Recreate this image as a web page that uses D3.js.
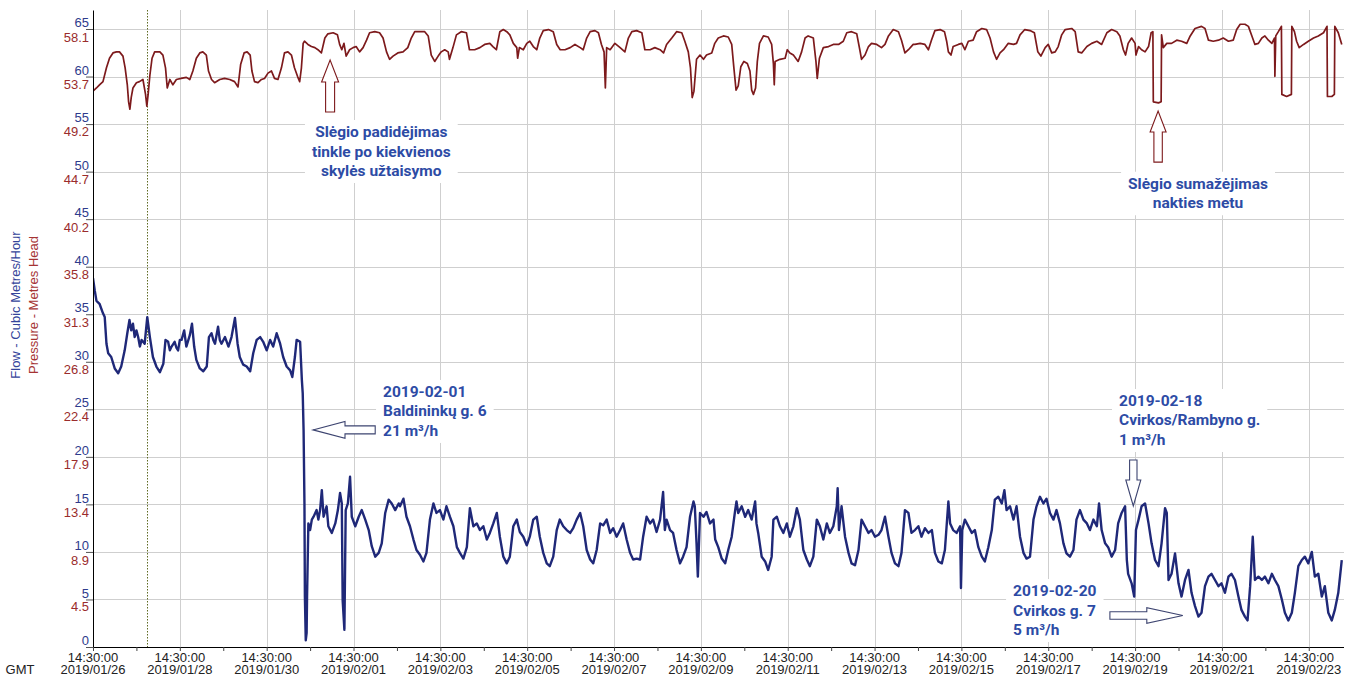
<!DOCTYPE html>
<html>
<head>
<meta charset="utf-8">
<script src="https://cdn.jsdelivr.net/npm/d3@7"></script>
<style>
html,body{margin:0;padding:0;background:#fff;}
svg{display:block;}
</style>
</head>
<body>
<svg id="chart" width="1347" height="677"></svg>
<script>
// ---------------- DATA ----------------
const startTime = Date.UTC(2019, 0, 26, 14, 30, 0);   // 2019/01/26 14:30:00 GMT
const spanDays = 28.8;
const flowMax = 67;
const pressurePerFlow = 58.15 / 65;                   // right-hand (pressure) labels share the gridlines
const flowTicks = [0, 5, 10, 15, 20, 25, 30, 35, 40, 45, 50, 55, 60, 65];
const pressureTicks = [4.5, 8.9, 13.4, 17.9, 22.4, 26.8, 31.3, 35.8, 40.2, 44.7, 49.2, 53.7, 58.1];
const tickDays = d3.range(0, 29);          // a tick at 14:30 every day
const labelDays = d3.range(0, 29, 2);      // labelled / gridded every second day
const markerDay = 1.24;                    // dotted vertical marker

// [days since start, flow m3/h]
const flowSeries = [
[0.00,38.8],[0.04,37.5],[0.08,36.4],[0.15,36.1],[0.23,35.1],[0.27,34.7],[0.31,31.9],[0.35,30.9],[0.42,30.5],[0.50,29.3],
[0.58,28.8],[0.65,29.5],[0.73,31.2],[0.79,33.0],[0.84,34.4],[0.88,33.3],[0.92,34.0],[0.96,32.6],[1.00,33.3],[1.04,32.6],
[1.08,31.6],[1.12,32.3],[1.19,31.9],[1.25,34.7],[1.31,32.6],[1.38,30.5],[1.46,29.5],[1.54,28.9],[1.62,29.8],[1.67,32.3],
[1.73,32.1],[1.77,31.2],[1.81,31.6],[1.88,32.1],[1.92,31.5],[1.96,31.2],[2.00,32.3],[2.04,32.3],[2.10,33.3],[2.15,31.6],
[2.23,32.8],[2.28,34.0],[2.33,31.6],[2.38,30.2],[2.46,29.3],[2.54,29.0],[2.62,29.5],[2.67,32.6],[2.73,33.0],[2.77,32.3],
[2.81,31.9],[2.88,33.7],[2.92,32.3],[2.96,31.9],[3.04,32.6],[3.12,31.6],[3.19,32.6],[3.27,34.6],[3.33,31.9],[3.38,30.5],
[3.46,29.7],[3.54,29.5],[3.62,29.0],[3.69,30.9],[3.77,32.3],[3.85,32.6],[3.92,32.1],[4.00,31.2],[4.08,32.3],[4.15,31.6],
[4.23,33.0],[4.31,31.9],[4.38,30.5],[4.46,29.5],[4.54,29.1],[4.59,28.4],[4.65,30.5],[4.69,32.3],[4.77,32.1],[4.81,28.1],
[4.83,26.7],[4.85,22.8],[4.87,15.1],[4.88,5.3],[4.90,0.7],[4.92,1.5],[4.93,5.3],[4.96,13.0],[5.00,12.3],[5.04,13.4],
[5.08,13.7],[5.15,14.4],[5.19,13.4],[5.23,14.4],[5.27,16.5],[5.31,13.7],[5.38,14.8],[5.42,12.7],[5.50,12.0],[5.58,13.0],
[5.64,14.4],[5.69,16.2],[5.73,15.1],[5.75,4.9],[5.79,1.8],[5.82,14.4],[5.87,15.1],[5.92,17.9],[5.96,13.7],[6.04,12.7],
[6.12,13.7],[6.19,14.4],[6.27,13.4],[6.35,12.3],[6.42,10.6],[6.50,9.5],[6.58,9.9],[6.65,10.9],[6.73,14.1],[6.81,15.5],
[6.88,15.1],[6.96,14.4],[7.04,15.1],
[7.07,14.8],[7.15,15.6],[7.22,13.7],[7.30,12.7],[7.38,11.3],[7.45,10.2],[7.53,9.7],[7.61,9.0],[7.68,9.9],[7.76,13.4],
[7.84,15.1],[7.91,14.1],[7.99,14.4],[8.07,13.4],[8.14,14.8],[8.22,13.7],[8.30,12.7],[8.38,10.5],[8.45,9.9],[8.53,9.3],
[8.61,10.5],[8.68,14.6],[8.76,12.7],[8.84,13.0],[8.91,12.3],[8.99,12.7],[9.07,11.3],[9.14,12.0],[9.22,13.0],[9.30,14.1],
[9.37,11.6],[9.45,9.5],[9.53,8.8],[9.60,9.5],[9.68,12.7],[9.76,13.4],[9.83,12.1],[9.91,11.6],[9.99,10.7],[10.06,11.6],
[10.14,13.4],[10.22,13.7],[10.29,11.6],[10.37,9.9],[10.45,8.8],[10.52,8.5],[10.60,9.5],[10.68,12.3],[10.75,13.4],[10.83,12.7],
[10.91,12.3],[10.99,12.0],[11.06,12.5],[11.14,13.4],[11.22,14.1],[11.29,12.7],[11.37,10.2],[11.45,9.2],[11.52,8.8],[11.60,10.2],
[11.68,13.0],[11.75,12.8],[11.83,13.4],[11.91,12.0],[11.98,12.5],[12.06,11.6],[12.14,12.3],[12.21,13.0],[12.29,11.3],[12.37,9.9],
[12.44,9.2],[12.52,9.3],[12.60,9.2],[12.67,11.6],[12.75,13.7],[12.83,13.0],[12.90,13.4],[12.98,12.1],[13.06,13.4],[13.13,16.3],
[13.17,12.3],[13.21,13.4],[13.29,12.3],[13.36,12.0],[13.44,10.2],[13.52,8.8],[13.59,9.5],[13.67,10.5],[13.75,13.7],[13.83,15.3],
[13.86,14.8],[13.90,10.9],[13.93,7.4],[13.98,14.1],[14.06,13.7],[14.13,14.2],[14.21,13.0],[14.29,13.4],
[14.33,11.3],[14.40,10.5],[14.48,9.3],[14.56,8.8],[14.63,10.2],[14.71,11.6],[14.79,14.4],[14.82,15.3],[14.86,14.1],[14.94,14.8],
[15.02,13.7],[15.09,14.4],[15.17,13.4],[15.25,15.3],[15.28,13.0],[15.32,12.0],[15.40,9.5],[15.48,9.0],[15.55,8.1],[15.63,9.5],
[15.67,13.4],[15.75,13.7],[15.82,12.7],[15.90,12.0],[15.98,13.0],[16.05,11.6],[16.13,12.7],[16.21,14.6],[16.28,13.4],[16.36,10.2],
[16.44,9.2],[16.51,8.5],[16.59,9.5],[16.67,13.4],[16.74,12.7],[16.82,11.3],[16.90,13.0],[16.97,12.0],[17.05,12.7],[17.13,14.8],
[17.15,16.7],[17.18,12.3],[17.24,14.8],[17.32,11.6],[17.40,9.9],[17.47,8.8],[17.55,8.6],[17.63,10.2],[17.70,13.4],[17.78,12.7],
[17.86,12.0],[17.93,12.3],[18.01,11.6],[18.09,11.8],[18.16,12.3],[18.24,13.7],[18.32,11.6],[18.39,9.9],[18.47,8.8],[18.55,8.5],
[18.62,9.9],[18.70,14.4],[18.78,14.1],[18.85,12.0],[18.93,12.3],[19.01,12.7],[19.08,11.6],[19.16,12.5],[19.24,12.0],[19.32,12.3],
[19.39,9.9],[19.47,9.0],[19.55,8.8],[19.62,10.2],[19.70,15.3],[19.74,13.0],[19.81,12.3],[19.89,12.0],[19.97,12.7],[19.99,6.2],
[20.02,12.3],[20.08,13.4],[20.16,12.7],[20.24,12.0],[20.31,12.3],[20.39,10.5],[20.47,9.5],[20.54,9.0],[20.62,10.5],[20.70,12.3],
[20.77,15.5],[20.85,15.8],[20.93,15.1],[20.99,16.5],[21.04,14.4],[21.12,14.8],[21.20,13.4],[21.27,14.8],[21.35,11.6],[21.43,9.9],
[21.50,9.3],[21.58,9.5],
[21.66,13.4],[21.73,14.8],[21.81,15.8],[21.89,15.1],[21.96,15.6],[22.04,14.1],[22.12,13.4],[22.19,14.4],[22.27,13.0],[22.35,10.9],
[22.42,9.85],[22.50,9.5],[22.58,10.2],[22.65,13.4],[22.73,14.4],[22.81,13.4],[22.89,13.0],[22.96,12.3],[23.04,13.4],[23.12,12.7],
[23.17,15.1],[23.23,12.3],[23.31,10.9],[23.38,10.5],[23.46,9.5],[23.54,10.2],[23.61,13.0],[23.69,14.1],[23.77,14.8],[23.81,9.15],
[23.84,7.7],[23.92,6.7],[23.98,5.3],[24.02,12.3],[24.08,13.4],[24.15,14.8],[24.23,15.1],[24.31,13.0],[24.38,10.9],[24.46,9.15],
[24.54,8.5],[24.61,10.9],[24.69,14.6],[24.73,14.1],[24.77,7.05],[24.84,7.7],[24.92,9.85],[25.00,6.7],[25.07,5.3],[25.15,7.05],
[25.23,8.1],[25.30,5.7],[25.38,4.3],[25.46,3.2],[25.53,3.6],[25.61,6.4],[25.69,7.4],[25.76,7.7],[25.84,7.05],[25.92,6.4],
[25.99,6.7],[26.07,5.7],[26.15,7.4],[26.22,7.7],[26.30,7.05],[26.38,5.3],[26.45,3.9],[26.53,3.2],[26.59,2.8],[26.65,6.4],
[26.71,11.6],[26.76,7.05],[26.84,7.4],[26.92,7.05],[26.99,7.4],[27.07,6.7],[27.15,7.7],[27.22,7.05],[27.30,6.4],[27.38,5.0],
[27.45,3.6],[27.53,2.8],[27.61,3.6],[27.68,5.7],[27.76,8.5],[27.84,9.15],[27.91,9.5],[27.99,8.8],[28.07,10.0],[28.14,7.4],
[28.22,7.7],[28.30,5.3],[28.37,6.4],[28.45,3.6],[28.53,2.8],[28.60,3.9],[28.68,5.7],[28.76,9.15]
];

// [days since start, pressure m head]
const pressureSeries = [
[0.00,52.3],[0.08,52.6],[0.15,52.9],[0.23,53.2],[0.31,54.5],[0.38,55.4],[0.46,55.9],[0.54,56.0],[0.61,56.0],[0.69,55.6],
[0.74,54.5],[0.79,52.9],[0.82,51.3],[0.85,50.6],[0.88,51.7],[0.92,52.6],[1.00,53.1],[1.07,53.2],[1.15,53.4],[1.21,52.0],
[1.24,50.9],[1.27,52.0],[1.31,53.8],[1.36,55.4],[1.42,56.0],[1.54,56.0],[1.61,55.7],[1.67,54.5],[1.71,52.6],[1.77,53.4],
[1.84,52.9],[1.92,53.4],[2.03,53.5],[2.15,53.6],[2.23,53.4],[2.30,54.2],[2.38,55.4],[2.46,55.9],[2.53,56.0],[2.61,55.7],
[2.66,54.2],[2.73,53.4],[2.80,53.1],[2.92,53.4],[3.03,53.5],[3.15,53.4],[3.26,53.2],[3.34,52.7],[3.40,54.8],[3.48,55.9],
[3.55,56.0],[3.62,55.7],[3.66,54.2],[3.72,53.2],[3.80,53.1],[3.88,53.4],[3.95,53.5],[4.03,54.0],[4.11,54.2],[4.18,53.5],
[4.26,53.4],[4.34,54.5],[4.41,55.9],[4.49,56.0],[4.57,55.7],[4.64,54.5],[4.71,53.7],[4.76,53.2],[4.80,54.5],[4.84,56.8],
[4.87,57.0],[4.95,56.7],[5.03,56.5],[5.11,56.4],[5.18,56.2],[5.26,55.9],[5.34,57.3],[5.41,57.7],[5.53,57.8],[5.63,57.6],
[5.68,56.7],[5.73,56.2],[5.78,56.8],[5.83,55.6],[5.91,56.2],[5.99,56.4],[6.06,56.5],[6.14,56.0],[6.22,56.4],[6.30,57.1],
[6.37,57.8],[6.49,57.9],[6.60,57.8],[6.68,57.3],[6.76,56.0],[6.83,55.3],[6.91,55.6],[7.02,55.9],[7.14,56.0],[7.25,56.4],
[7.33,57.3],[7.41,57.9],[7.52,57.9],[7.64,57.9],[7.72,57.5],[7.79,55.7],[7.87,55.1],[7.95,55.6],[8.02,56.0],[8.10,56.2],
[8.18,56.0],[8.21,55.3],[8.29,56.4],[8.37,57.6],[8.48,57.9],[8.60,57.8],[8.67,56.2],[8.79,56.2],[8.91,56.4],[9.02,56.7],
[9.14,56.8],[9.21,56.5],[9.29,56.2],
[9.37,57.9],[9.45,58.1],[9.53,57.9],[9.60,57.6],[9.68,56.8],[9.76,56.4],[9.78,55.4],[9.82,56.4],[9.91,56.2],[9.99,56.8],
[10.06,57.0],[10.14,56.5],[10.22,56.2],[10.29,57.3],[10.37,58.0],[10.49,58.1],[10.60,57.9],[10.68,56.7],[10.76,56.2],[10.87,56.2],
[10.99,56.4],[11.10,56.7],[11.22,56.4],[11.29,56.2],[11.37,57.3],[11.45,57.9],[11.56,58.0],[11.64,57.8],[11.71,56.7],[11.77,56.0],
[11.80,52.6],[11.83,56.4],[11.91,56.2],[12.02,56.8],[12.14,56.4],[12.25,56.0],[12.33,57.3],[12.41,57.9],[12.52,58.0],[12.64,57.8],
[12.71,56.2],[12.83,56.2],[12.94,56.4],[13.06,56.2],[13.14,55.9],[13.21,56.7],[13.33,57.3],[13.44,57.9],[13.56,57.8],[13.63,57.0],
[13.71,56.0],[13.76,54.5],[13.80,51.7],[13.84,52.3],[13.90,55.3],[13.98,55.7],[14.06,55.3],[14.13,55.7],[14.25,55.9],[14.32,56.8],
[14.40,57.3],[14.52,57.5],[14.63,57.4],[14.71,56.7],[14.76,54.5],[14.81,52.4],[14.86,52.8],[14.92,54.6],[14.99,55.1],[15.07,54.9],
[15.13,54.2],[15.17,52.4],[15.21,52.0],[15.26,52.6],[15.30,55.1],[15.35,56.8],[15.44,57.5],[15.55,57.4],[15.63,56.7],[15.67,54.9],
[15.69,52.9],[15.71,55.1],[15.82,55.3],[15.94,55.4],[15.99,56.2],[16.05,55.9],[16.13,55.7],[16.24,55.1],[16.32,56.0],[16.40,57.3],
[16.47,57.5],[16.59,57.3],[16.65,55.1],[16.68,53.5],[16.73,55.4],[16.82,56.4],[16.94,56.5],[17.05,56.7],[17.17,56.7],[17.28,57.0],
[17.36,57.8],[17.47,57.9],[17.59,57.7],[17.66,56.2],[17.70,55.3],[17.78,55.7],[17.86,56.5],[17.93,56.8],[18.05,56.7],[18.16,56.4],
[18.24,56.7],[18.32,57.5],[18.43,58.1],[18.55,57.9],[18.62,57.1],[18.70,55.9],[18.78,56.2],[18.89,56.7],
[18.93,56.7],[19.05,56.8],[19.16,56.7],[19.24,56.2],[19.31,57.1],[19.39,58.0],[19.51,58.1],[19.61,57.9],[19.66,57.0],[19.70,56.0],
[19.76,55.7],[19.81,56.5],[19.93,56.7],[20.01,56.8],[20.08,56.2],[20.16,57.0],[20.27,57.1],[20.35,57.9],[20.47,58.2],[20.58,58.1],
[20.66,57.3],[20.74,56.0],[20.81,55.3],[20.89,55.9],[20.97,56.2],[21.08,56.8],[21.20,56.7],[21.27,56.8],[21.35,57.6],[21.46,58.1],
[21.58,58.0],[21.68,57.8],[21.76,56.0],[21.83,55.6],[21.93,56.4],[22.00,56.7],[22.08,55.9],[22.16,56.0],[22.23,56.5],[22.31,57.6],
[22.39,58.1],[22.54,58.2],[22.62,57.9],[22.69,56.0],[22.77,55.9],[22.89,56.5],[23.00,56.8],[23.12,57.0],[23.23,56.7],[23.35,57.8],
[23.46,58.1],[23.58,57.9],[23.65,57.5],[23.73,56.2],[23.78,55.7],[23.84,56.8],[23.92,57.3],[24.00,56.8],[24.02,55.7],[24.08,56.5],
[24.15,56.2],[24.23,56.0],[24.31,56.5],[24.37,57.8],[24.41,57.9],[24.42,51.3],[24.54,51.2],[24.60,51.3],[24.61,57.6],[24.65,56.4],
[24.73,56.8],[24.84,56.8],[24.96,57.1],[25.07,57.0],[25.19,56.8],[25.27,57.5],[25.38,58.2],[25.53,58.4],[25.61,58.2],[25.69,57.1],
[25.80,57.0],[25.92,57.1],[26.03,57.3],[26.15,57.0],[26.26,57.1],[26.34,58.1],[26.42,58.6],[26.53,58.6],[26.61,58.4],[26.69,57.5],
[26.76,56.7],[26.84,56.8],[26.92,57.3],[26.99,57.5],[27.07,57.1],[27.15,56.8],[27.21,57.3],[27.22,53.7],[27.24,57.5],[27.30,57.9],
[27.37,58.4],[27.38,52.0],[27.49,51.8],[27.60,52.0],[27.61,58.4],[27.67,57.9],[27.72,57.0],[27.78,56.4],[27.88,56.7],[27.99,57.0],
[28.11,57.3],[28.22,57.5],[28.34,57.8],[28.42,58.4],[28.43,51.8],[28.53,51.8],[28.59,52.0],[28.60,58.4],[28.68,57.8],[28.76,56.7]
];

// Annotation texts (anchors in chart units: days since start, flow-scale value of first baseline)
const noteLines1 = ["Slėgio padidėjimas", "tinkle po kiekvienos", "skylės užtaisymo"];
const noteLines2 = ["Slėgio sumažėjimas", "nakties metu"];
const noteLines3 = ["2019-02-01", "Baldininkų g. 6", "21 m³/h"];
const noteLines4 = ["2019-02-18", "Cvirkos/Rambyno g.", "1 m³/h"];
const noteLines5 = ["2019-02-20", "Cvirkos g. 7", "5 m³/h"];
const notes = [
  {lines: noteLines1, day: 6.64,  val: 53.64, anchor: "middle"},
  {lines: noteLines2, day: 25.45, val: 48.20, anchor: "middle"},
  {lines: noteLines3, day: 6.68,  val: 26.30, anchor: "start"},
  {lines: noteLines4, day: 23.63, val: 25.35, anchor: "start"},
  {lines: noteLines5, day: 21.19, val: 5.36,  anchor: "start"}
];
// Arrows: tail -> tip in chart units
const arrows = [
  {from: [5.46, 56.27], to: [5.46, 61.74], shaft: 4.5, head: 8.5, headLen: 22, kind: "p"},
  {from: [24.53, 51.0], to: [24.53, 56.38], shaft: 4.2, head: 8, headLen: 21, kind: "p"},
  {from: [6.50, 22.83], to: [5.067, 22.83], shaft: 4, head: 8.5, headLen: 32, kind: "f"},
  {from: [23.96, 19.67], to: [23.96, 14.83], shaft: 3.7, head: 7.5, headLen: 26, kind: "f"},
  {from: [23.42, 3.31], to: [25.10, 3.31], shaft: 3.8, head: 7.8, headLen: 36, kind: "f"}
];

// ---------------- CHART ----------------
const DAY = 86400000;
const toDate = d => new Date(startTime + d * DAY);
const svg = d3.select("#chart");
const plotLeft = 93, plotRight = 1343.5, plotTop = 10, plotBottom = 647;

const x = d3.scaleUtc().domain([toDate(0), toDate(spanDays)]).range([plotLeft, plotRight]);
const y = d3.scaleLinear().domain([0, flowMax]).range([plotBottom, plotTop]);
const yP = d3.scaleLinear().domain([0, flowMax * pressurePerFlow]).range([plotBottom, plotTop]);

const blue = "#2e3b8c", red = "#9a2c2c";
const axisFont = "'Liberation Sans', Arial, sans-serif";
const noteFont = "Roboto, 'Liberation Sans', sans-serif";

svg.append("rect").attr("width", 1347).attr("height", 677).attr("fill", "#fff");

// gridlines
const grid = svg.append("g").attr("shape-rendering", "crispEdges");
grid.selectAll("line.h").data(flowTicks.filter(v => v > 0)).join("line")
  .attr("class", "h")
  .attr("x1", plotLeft).attr("x2", plotRight)
  .attr("y1", d => Math.round(y(d)) + 0.5).attr("y2", d => Math.round(y(d)) + 0.5)
  .attr("stroke", "#cfcfcf");
grid.selectAll("line.v").data(labelDays.filter(d => d > 0)).join("line")
  .attr("class", "v")
  .attr("x1", d => Math.round(x(toDate(d))) + 0.5).attr("x2", d => Math.round(x(toDate(d))) + 0.5)
  .attr("y1", plotTop).attr("y2", plotBottom)
  .attr("stroke", "#cfcfcf");

// dotted marker
svg.append("line")
  .attr("x1", Math.round(x(toDate(markerDay))) + 0.5).attr("x2", Math.round(x(toDate(markerDay))) + 0.5)
  .attr("y1", plotTop).attr("y2", plotBottom)
  .attr("stroke", "#5f6a22").attr("stroke-width", 1).attr("stroke-dasharray", "1.5,1.5");

// annotation text (with white backgrounds)
const notesG = svg.append("g");
notes.forEach(n => {
  const g = notesG.append("g");
  const bg = g.append("rect").attr("fill", "#fff");
  const t = g.append("text")
    .attr("x", x(toDate(n.day))).attr("y", y(n.val))
    .attr("text-anchor", n.anchor)
    .attr("fill", "#2d4ba5")
    .style("font-family", noteFont).style("font-weight", 700).style("font-size", "15.5px");
  n.lines.forEach((s, i) => {
    t.append("tspan").attr("x", x(toDate(n.day))).attr("dy", i === 0 ? 0 : 19.5).text(s);
  });
  const b = t.node().getBBox();
  bg.attr("x", b.x - 7).attr("y", b.y - 3).attr("width", b.width + 14).attr("height", b.height + 6);
});

// clip
svg.append("clipPath").attr("id", "plotclip").append("rect")
  .attr("x", plotLeft).attr("y", plotTop).attr("width", plotRight - plotLeft).attr("height", plotBottom - plotTop);

// series
const flowLine = d3.line().x(d => x(toDate(d[0]))).y(d => y(d[1]));
const pressureLine = d3.line().x(d => x(toDate(d[0]))).y(d => yP(d[1]));
const seriesG = svg.append("g").attr("clip-path", "url(#plotclip)");
seriesG.append("path").datum(flowSeries).attr("d", flowLine)
  .attr("fill", "none").attr("stroke", "#1f2878").attr("stroke-width", 2.4).attr("stroke-linejoin", "round");
seriesG.append("path").datum(pressureSeries).attr("d", pressureLine)
  .attr("fill", "none").attr("stroke", "#7d1a1c").attr("stroke-width", 1.7).attr("stroke-linejoin", "round");

// arrows
function arrowPath(x0, y0, x1, y1, s, h, L) {
  const dx = x1 - x0, dy = y1 - y0, len = Math.hypot(dx, dy);
  const ux = dx / len, uy = dy / len, nx = -uy, ny = ux;
  const bx = x1 - ux * L, by = y1 - uy * L;
  const pts = [
    [x0 + nx * s, y0 + ny * s], [bx + nx * s, by + ny * s], [bx + nx * h, by + ny * h],
    [x1, y1],
    [bx - nx * h, by - ny * h], [bx - nx * s, by - ny * s], [x0 - nx * s, y0 - ny * s]
  ];
  return "M" + pts.map(p => p[0].toFixed(1) + "," + p[1].toFixed(1)).join("L") + "Z";
}
svg.append("g").selectAll("path").data(arrows).join("path")
  .attr("d", a => arrowPath(x(toDate(a.from[0])), y(a.from[1]), x(toDate(a.to[0])), y(a.to[1]), a.shaft, a.head, a.headLen))
  .attr("fill", "#fff")
  .attr("stroke", a => a.kind === "p" ? "#7d1a1c" : "#3d4470")
  .attr("stroke-width", 1.1);

// left axis (flow)
const gy = svg.append("g").attr("transform", `translate(${plotLeft},0)`)
  .call(d3.axisLeft(y).tickValues(flowTicks).tickSize(7).tickSizeOuter(0));
gy.attr("font-family", null).attr("font-size", null);
gy.select(".domain").attr("stroke", "#000");
gy.selectAll(".tick line").attr("stroke", "#555");
gy.selectAll(".tick text").attr("x", -4).attr("dy", "-0.18em")
  .attr("fill", blue).style("font-family", axisFont).style("font-size", "13px");

// pressure labels
const gp = svg.append("g").attr("transform", `translate(${plotLeft},0)`)
  .call(d3.axisLeft(yP).tickValues(pressureTicks).tickSize(0).tickFormat(d3.format(".1f")));
gp.attr("font-family", null).attr("font-size", null);
gp.select(".domain").remove();
gp.selectAll(".tick text").attr("x", -4).attr("dy", "0.9em")
  .attr("fill", red).style("font-family", axisFont).style("font-size", "13px");

// bottom axis
const gx = svg.append("g").attr("transform", `translate(0,${plotBottom})`)
  .call(d3.axisBottom(x).tickValues(tickDays.map(toDate)).tickSize(4).tickSizeOuter(0).tickFormat(() => ""));
gx.select(".domain").attr("stroke", "#000");
gx.selectAll(".tick line").attr("stroke", "#444");

const fmtTime = d3.utcFormat("%H:%M:%S"), fmtDate = d3.utcFormat("%Y/%m/%d");
const xl = svg.append("g").style("font-family", axisFont).style("font-size", "13px").attr("fill", "#222");
xl.selectAll("text.xlab").data(labelDays).join("text")
  .attr("class", "xlab")
  .attr("text-anchor", "middle")
  .attr("transform", d => `translate(${x(toDate(d))},${plotBottom})`)
  .each(function(d) {
    const t = d3.select(this);
    t.append("tspan").attr("x", 0).attr("y", 14.5).text(fmtTime(toDate(d)));
    t.append("tspan").attr("x", 0).attr("y", 27).text(fmtDate(toDate(d)));
  });
xl.append("text").attr("x", 20).attr("y", plotBottom + 27).attr("text-anchor", "middle").text("GMT");

// axis titles
svg.append("text").attr("transform", "translate(19.5,305) rotate(-90)")
  .attr("text-anchor", "middle").attr("fill", "#34449a")
  .style("font-family", axisFont).style("font-size", "13px")
  .text("Flow - Cubic Metres/Hour");
svg.append("text").attr("transform", "translate(38,305) rotate(-90)")
  .attr("text-anchor", "middle").attr("fill", "#a53333")
  .style("font-family", axisFont).style("font-size", "13px")
  .text("Pressure - Metres Head");
</script>
</body>
</html>
